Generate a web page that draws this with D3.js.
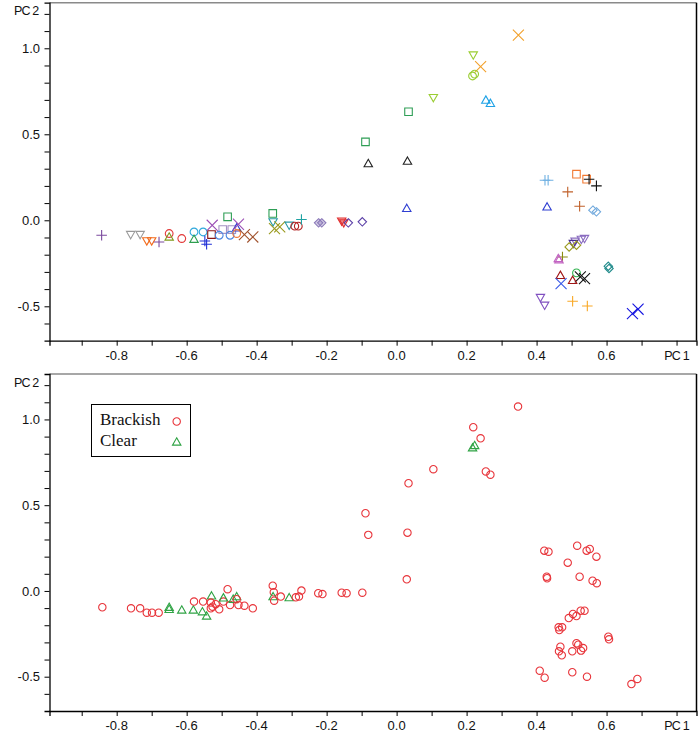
<!DOCTYPE html>
<html><head><meta charset="utf-8">
<script src="https://cdn.jsdelivr.net/npm/d3@7"></script>
<style>body{margin:0;background:#fff}svg{display:block}</style>
</head><body><svg id="c" width="700" height="733"></svg>
<script>
// ---- data: top panel (sample groups) ----
const topPC1 = [-0.843,-0.760,-0.733,-0.714,-0.700,-0.679,-0.650,-0.650,-0.614,-0.579,-0.579,-0.553,-0.548,-0.543,-0.529,-0.527,-0.497,-0.471,-0.507,-0.476,-0.483,-0.457,-0.452,-0.457,-0.435,-0.411,-0.354,-0.353,-0.349,-0.334,-0.307,-0.291,-0.281,-0.272,-0.223,-0.214,-0.157,-0.151,-0.138,-0.098,
  0.348,0.219,0.240,0.217,0.223,0.105,0.255,0.268,0.034,-0.089,-0.081,0.031,0.029,
  0.424,0.433,0.514,0.543,0.550,0.571,0.489,0.430,0.523,0.561,0.571,0.510,0.528,0.537,0.505,0.493,0.514,0.474,0.462,0.464,0.605,0.607,0.514,0.525,0.537,0.468,0.503,0.470,0.411,0.423,0.503,0.545,0.674,0.690];
const topPC2 = [-0.087,-0.083,-0.083,-0.120,-0.120,-0.126,-0.077,-0.097,-0.106,-0.068,-0.110,-0.068,-0.120,-0.139,-0.083,-0.029,-0.054,-0.054,-0.087,-0.087,0.020,-0.044,-0.023,-0.077,-0.083,-0.097,0.040,-0.009,-0.048,-0.038,-0.029,-0.034,-0.034,0.005,-0.015,-0.015,-0.005,-0.015,-0.015,-0.009,
  1.077,0.961,0.893,0.839,0.850,0.713,0.699,0.680,0.631,0.456,0.330,0.344,0.069,
  0.233,0.233,0.268,0.239,0.239,0.200,0.165,0.078,0.082,0.059,0.049,-0.122,-0.111,-0.106,-0.135,-0.155,-0.145,-0.213,-0.222,-0.229,-0.267,-0.280,-0.306,-0.329,-0.339,-0.320,-0.349,-0.368,-0.449,-0.494,-0.471,-0.498,-0.543,-0.517];
const topGroup = ["purplePlus","grayTriDown","grayTriDown","orangeTriDown","orangeTriDown","purplePlus","redCircle","oliveTri","redCircle","cyanCircle","greenTri","cyanCircle","bluePlus","bluePlus","darkredSquare","purpleX","lavSquare","lavSquare","blueCircle","blueCircle","greenSquare","blueTri","purpleX","orangeCircle","brownX","brownX","greenSquare","tealTriDown","oliveX","oliveX","tealTriDown","darkredCircle","darkredCircle","tealPlus","lavDiamond","lavDiamond","redTriDown","redTriDown","purpleDiamond","purpleDiamond",
  "goldX","ygTriDown","goldX","ygCircle","ygCircle","ygTriDown","cyanTri","cyanTri","greenSquare","greenSquare","blackTri","blackTri","blueTri",
  "lightBluePlus","lightBluePlus","orangeSquare","orangeSquare","blackPlus","blackPlus","brownPlus","blueTri","brownPlus","lightBlueDiamond","lightBlueDiamond","purpleTriDown","purpleTriDown","purpleTriDown","darkPurpleTriDown","oliveDiamond","oliveDiamond","olivePlus","pinkTri","pinkTri","tealDiamond","tealDiamond","greenCircle","blackX","blackX","darkRedTri","darkRedTri","blueX","violetTriDown","violetTriDown","goldPlus","goldPlus","deepBlueX","deepBlueX"];

// ---- data: bottom panel (water type) ----
const waterTypes = ["Brackish","Clear"];
const botPC1 = [-0.841,-0.759,-0.733,-0.714,-0.699,-0.680,-0.650,-0.650,-0.614,-0.581,-0.579,-0.555,-0.543,-0.553,-0.529,-0.531,-0.531,-0.526,-0.517,-0.507,-0.495,-0.495,-0.483,-0.476,-0.467,-0.457,-0.457,-0.452,-0.435,-0.411,-0.354,-0.351,-0.353,-0.350,-0.331,-0.307,-0.288,-0.279,-0.272,-0.224,-0.212,-0.157,-0.143,-0.098,
  0.347,0.219,0.240,0.217,0.223,0.105,0.255,0.268,0.034,-0.089,-0.081,0.031,0.029,
  0.422,0.434,0.516,0.543,0.552,0.571,0.489,0.429,0.430,0.523,0.560,0.572,0.504,0.514,0.526,0.537,0.492,0.463,0.473,0.465,0.605,0.607,0.468,0.464,0.472,0.502,0.514,0.519,0.533,0.527,0.409,0.423,0.502,0.544,0.671,0.688];
const botPC2 = [-0.095,-0.101,-0.101,-0.127,-0.127,-0.127,-0.095,-0.107,-0.111,-0.111,-0.062,-0.121,-0.146,-0.062,-0.029,-0.068,-0.101,-0.092,-0.077,-0.107,-0.062,-0.040,0.010,-0.082,-0.048,-0.033,-0.048,-0.082,-0.086,-0.101,0.031,-0.008,-0.033,-0.057,-0.033,-0.039,-0.037,-0.033,0.002,-0.013,-0.018,-0.010,-0.013,-0.010,
  1.075,0.955,0.890,0.835,0.848,0.710,0.697,0.678,0.628,0.453,0.327,0.340,0.068,
  0.235,0.229,0.264,0.235,0.245,0.200,0.165,0.083,0.074,0.083,0.060,0.045,-0.134,-0.146,-0.115,-0.115,-0.158,-0.212,-0.212,-0.228,-0.267,-0.282,-0.325,-0.352,-0.375,-0.352,-0.305,-0.313,-0.333,-0.348,-0.465,-0.506,-0.474,-0.500,-0.543,-0.513];
const botWater = ["Brackish","Brackish","Brackish","Brackish","Brackish","Brackish","Clear","Clear","Clear","Clear","Brackish","Clear","Clear","Brackish","Clear","Brackish","Brackish","Brackish","Brackish","Brackish","Brackish","Clear","Brackish","Brackish","Clear","Clear","Brackish","Brackish","Brackish","Brackish","Brackish","Brackish","Clear","Brackish","Brackish","Clear","Brackish","Brackish","Brackish","Brackish","Brackish","Brackish","Brackish","Brackish",
  "Brackish","Brackish","Brackish","Clear","Clear","Brackish","Brackish","Brackish","Brackish","Brackish","Brackish","Brackish","Brackish"].concat(new Array(38).fill("Brackish"));

// ---- axis ticks ----
const xMajorTicks = [-0.8,-0.6,-0.4,-0.2,0.0,0.2,0.4,0.6];
const xMinorTicks = [-0.9,-0.8,-0.7,-0.6,-0.5,-0.4,-0.3,-0.2,-0.1,0.0,0.1,0.2,0.3,0.4,0.5,0.6,0.7,0.8];
const yMajorTicks = [-0.5,0.0,0.5,1.0];
const yMinorTicks = [-0.6,-0.5,-0.4,-0.3,-0.2,-0.1,0.0,0.1,0.2,0.3,0.4,0.5,0.6,0.7,0.8,0.9,1.0,1.1,1.2];

// ---- styles ----
const groupStyle = {
  purplePlus:["plus","#7b4a9e"], grayTriDown:["triDown","#999999"], orangeTriDown:["triDown","#f26b1d"],
  redCircle:["circle","#e23b3b"], oliveTri:["triUp","#7f9a1c"], cyanCircle:["circle","#2fa8dc"],
  greenTri:["triUp","#2e9e4f"], bluePlus:["plus","#1f2fd6"], darkredSquare:["square","#8b1515"],
  purpleX:["x","#9b4fb5"], lavSquare:["square","#a592c4"], blueCircle:["circle","#4a86e0"],
  greenSquare:["square","#2e9e55"], blueTri:["triUp","#2f3fd2"], orangeCircle:["circle","#f07a3a"],
  brownX:["x","#a0522d"], tealTriDown:["triDown","#2a9aa6"], oliveX:["x","#9a9a1e"],
  darkredCircle:["circle","#b32222"], tealPlus:["plus","#1fa3a3"], lavDiamond:["diamondF","#8a78b8"],
  redTriDown:["triDownF","#e23030"], purpleDiamond:["diamond","#5a3ea6"], goldX:["x","#f2a12c"],
  ygTriDown:["triDown","#9acd32"], ygCircle:["circle","#9acd32"], cyanTri:["triUp","#1fa2e6"],
  blackTri:["triUp","#222222"], lightBluePlus:["plus","#6fb0e2"], orangeSquare:["square","#f27a33"],
  blackPlus:["plus","#111111"], brownPlus:["plus","#c0602a"], lightBlueDiamond:["diamond","#6fa8dc"],
  purpleTriDown:["triDown","#8a6cc0"], darkPurpleTriDown:["triDown","#4b2f8e"], oliveDiamond:["diamond","#9a9a1e"],
  olivePlus:["plus","#8a8a10"], pinkTri:["triUp","#c264c2"], tealDiamond:["diamond","#1f8a8a"],
  greenCircle:["circle","#34b452"], blackX:["x","#111111"], darkRedTri:["triUp","#a01515"],
  blueX:["x","#3a5ae8"], violetTriDown:["triDown","#8050c0"], goldPlus:["plus","#f9a825"], deepBlueX:["x","#1414e0"]
};
const waterStyle = {Brackish:["circle","#e8353b"], Clear:["triUp","#2fa344"]};

function shapePath(shape, s){
  const r = s;
  switch(shape){
    case "triUp": return `M0,${-r}L${r},${r*0.75}L${-r},${r*0.75}Z`;
    case "triDown": case "triDownF": return `M0,${r}L${r},${-r*0.75}L${-r},${-r*0.75}Z`;
    case "square": return `M${-r*0.9},${-r*0.9}H${r*0.9}V${r*0.9}H${-r*0.9}Z`;
    case "diamond": case "diamondF": return `M0,${-r}L${r},0L0,${r}L${-r},0Z`;
    case "plus": return `M${-r*1.2},0H${r*1.2}M0,${-r*1.2}V${r*1.2}`;
    case "x": return `M${-r*1.2},${-r*1.2}L${r*1.2},${r*1.2}M${-r*1.2},${r*1.2}L${r*1.2},${-r*1.2}`;
    default: return d3.symbol(d3.symbolCircle, Math.PI*r*r*0.85)();
  }
}

const svg = d3.select("#c");
const fontSans = "'Liberation Sans', Arial, sans-serif";
const xDomain = [-0.992, 0.857];
const yDomain = [-0.70, 1.265];

function panel(top, bottom){
  const x = d3.scaleLinear().domain(xDomain).range([49.5, 696.5]);
  const y = d3.scaleLinear().domain(yDomain).range([bottom, top]);
  const g = svg.append("g");
  // frame
  g.append("line").attr("x1",49.5).attr("x2",696.5).attr("y1",top).attr("y2",top).attr("stroke","#8a8a8a").attr("stroke-width",1.5);
  g.append("line").attr("x1",696.5).attr("x2",696.5).attr("y1",top).attr("y2",bottom).attr("stroke","#000").attr("stroke-width",1.5);
  // x axis
  const xa = g.append("g").attr("transform",`translate(0,${bottom})`)
    .call(d3.axisBottom(x).tickValues(xMinorTicks).tickSize(5).tickFormat(""));
  xa.select(".domain").attr("stroke","#000").attr("stroke-width",1.3);
  xa.selectAll(".tick line").attr("stroke","#000");
  xMajorTicks.forEach(v=>{
    g.append("text").attr("x",x(v)).attr("y",bottom+19).attr("text-anchor","middle")
      .attr("font-family",fontSans).attr("font-size",13).attr("fill","#111").text(d3.format(".1f")(v).replace("−","-"));
  });
  g.append("text").attr("x",x(0.8)).attr("y",bottom+19).attr("text-anchor","middle")
    .attr("font-family",fontSans).attr("font-size",12.5).attr("letter-spacing",-0.8).attr("fill","#111").text("PC 1");
  // y axis
  const ya = g.append("g").attr("transform","translate(49.5,0)")
    .call(d3.axisLeft(y).tickValues(yMinorTicks).tickSize(5).tickFormat(""));
  ya.select(".domain").attr("stroke","#000").attr("stroke-width",1.3);
  ya.selectAll(".tick line").attr("stroke","#000");
  yMajorTicks.forEach(v=>{
    g.append("text").attr("x",40).attr("y",y(v)).attr("dy","0.36em").attr("text-anchor","end")
      .attr("font-family",fontSans).attr("font-size",13).attr("fill","#111").text(d3.format(".1f")(v).replace("−","-"));
  });
  g.append("text").attr("x",38.5).attr("y",top+12.5).attr("text-anchor","end")
    .attr("font-family",fontSans).attr("font-size",12.5).attr("letter-spacing",-0.8).attr("fill","#111").text("PC 2");
  return {g,x,y};
}

function drawMarker(g, cx, cy, shape, color, s){
  const filled = shape.endsWith("F");
  g.append("path").attr("transform",`translate(${cx},${cy})`).attr("d",shapePath(shape,s))
    .attr("fill", filled ? color : "none").attr("fill-opacity", filled ? 0.35 : 1)
    .attr("stroke",color).attr("stroke-width",1.1);
}

// top panel
const P1 = panel(2.7, 340.7);
topPC1.forEach((v,i)=>{
  const st = groupStyle[topGroup[i]];
  const s = st[0]==="x" ? 4.6 : st[0]==="plus" ? 4.4 : 4.2;
  drawMarker(P1.g, P1.x(v), P1.y(topPC2[i]), st[0], st[1], s);
});

// bottom panel
const P2 = panel(374, 711);
botPC1.forEach((v,i)=>{
  const st = waterStyle[botWater[i]];
  drawMarker(P2.g, P2.x(v), P2.y(botPC2[i]), st[0], st[1], st[0]==="circle"?4:4.2);
});

// legend
const lg = svg.append("g");
lg.append("rect").attr("x",91.5).attr("y",404.5).attr("width",99).attr("height",52).attr("fill","#fff").attr("stroke","#000").attr("stroke-width",1);
waterTypes.forEach((w,i)=>{
  lg.append("text").attr("x",100).attr("y",425+i*21).attr("font-family","'Liberation Serif', 'Times New Roman', serif")
    .attr("font-size",17).attr("fill","#111").text(w);
  drawMarker(lg, 176.7, 421.5+i*20.5, waterStyle[w][0], waterStyle[w][1], waterStyle[w][0]==="circle"?4:4.2);
});
</script></body></html>
